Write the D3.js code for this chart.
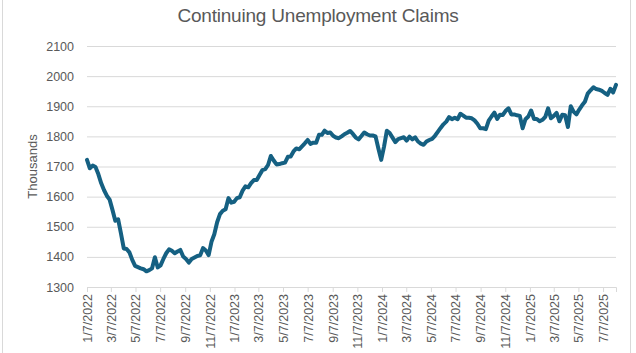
<!DOCTYPE html>
<html>
<head>
<meta charset="utf-8">
<script src="https://cdn.jsdelivr.net/npm/d3@7"></script>
<style>
  body { margin: 0; background: #fff; }
  text { font-family: "Liberation Sans", Arial, sans-serif; fill: #595959; }
</style>
</head>
<body>
<div id="chart"></div>
<script>
// weekly continuing claims (thousands), first week ending 1/7/2022
var startDate = "2022-01-07";
var claims = [
    1722, 1694, 1703, 1698, 1675, 1645, 1622, 1603, 1590, 1556,
    1520, 1525, 1478, 1428, 1426, 1415, 1390, 1370, 1366, 1362,
    1359, 1352, 1356, 1362, 1399, 1365, 1372, 1393, 1412, 1425,
    1420, 1412, 1418, 1423, 1401, 1393, 1381, 1393, 1398, 1403,
    1405, 1429, 1421, 1406, 1450, 1475, 1515, 1542, 1553, 1558,
    1595, 1580, 1583, 1595, 1598, 1620, 1634, 1631, 1645, 1655,
    1655, 1672, 1688, 1691, 1705, 1735, 1720, 1707, 1708, 1711,
    1713, 1732, 1733, 1750, 1760, 1757, 1767, 1777, 1788, 1775,
    1779, 1779, 1805, 1805, 1819, 1811, 1813, 1802, 1796, 1794,
    1800, 1807, 1812, 1818, 1808, 1796, 1790, 1801, 1813, 1807,
    1803, 1803, 1800, 1760, 1722, 1766, 1819, 1811, 1796, 1781,
    1791, 1794, 1797, 1786, 1799, 1790, 1797, 1783, 1776, 1772,
    1783, 1788, 1792, 1802, 1815, 1828, 1840, 1849, 1864, 1857,
    1862, 1857, 1875, 1869, 1862, 1862, 1860, 1853, 1842, 1827,
    1827, 1824, 1852, 1866, 1879, 1858, 1872, 1871, 1885, 1893,
    1873, 1873, 1870, 1868, 1827, 1857, 1866, 1886, 1858, 1858,
    1850, 1855, 1865, 1893, 1860, 1868, 1878, 1850, 1872, 1870,
    1831, 1900, 1882, 1873, 1889, 1903, 1915, 1942, 1953, 1963,
    1957, 1955, 1951, 1944, 1938, 1958, 1946, 1971
];
var xTickLabels = [
    "1/7/2022", "3/7/2022", "5/7/2022", "7/7/2022", "9/7/2022", "11/7/2022",
    "1/7/2023", "3/7/2023", "5/7/2023", "7/7/2023", "9/7/2023", "11/7/2023",
    "1/7/2024", "3/7/2024", "5/7/2024", "7/7/2024", "9/7/2024", "11/7/2024",
    "1/7/2025", "3/7/2025", "5/7/2025", "7/7/2025"
];
var yTicks = [1300, 1400, 1500, 1600, 1700, 1800, 1900, 2000, 2100];

function init() {
    var w = 636;
    var h = 353;
    var margin = { top: 46, right: 20, bottom: 66, left: 87 };
    var width = 616 - margin.left;
    var height = 287 - margin.top;

    var parseIso = d3.timeParse("%Y-%m-%d");
    var parseMdy = d3.timeParse("%m/%d/%Y");
    var start = parseIso(startDate);
    var dataset = claims.map(function(v, i) {
        return { date: d3.timeWeek.offset(start, i), number: v };
    });
    var tickDates = xTickLabels.map(function(s) { return parseMdy(s); });

    var svg0 = d3.select("#chart")
        .append("svg")
        .attr("width", w)
        .attr("height", h);

    // chart area border
    svg0.append("rect")
        .attr("x", 2.5)
        .attr("y", -2)
        .attr("width", 628)
        .attr("height", h + 4)
        .attr("fill", "none")
        .attr("stroke", "#d9d9d9");

    svg0.append("text")
        .attr("x", 318)
        .attr("y", 22)
        .attr("text-anchor", "middle")
        .style("font-size", "19px")
        .style("letter-spacing", "-0.2px")
        .text("Continuing Unemployment Claims");

    var svg = svg0.append("g")
        .attr("transform", "translate(" + margin.left + "," + margin.top + ")");

    var xScale = d3.scaleTime()
        .domain(d3.extent(dataset, function(d) { return d.date; }))
        .range([0, width]);

    var yScale = d3.scaleLinear()
        .domain([1300, 2100])
        .range([height, 0]);

    var yAxis = d3.axisLeft(yScale)
        .tickValues(yTicks)
        .tickSize(-width)
        .tickPadding(13)
        .tickFormat(d3.format("d"));
    var gy = svg.append("g")
        .attr("class", "y axis")
        .call(yAxis);
    gy.select(".domain").remove();
    gy.selectAll("line").attr("stroke", "#d9d9d9");
    gy.selectAll("text")
        .style("font-size", "12.5px")
        .attr("fill", "#595959");

    var xAxis = d3.axisBottom(xScale)
        .tickValues(tickDates)
        .tickSize(5)
        .tickFormat(d3.timeFormat("%-m/%-d/%Y"));
    var gx = svg.append("g")
        .attr("class", "x axis")
        .attr("transform", "translate(0," + height + ")")
        .call(xAxis);
    gx.select(".domain").attr("stroke", "#d9d9d9");
    gx.selectAll("line").attr("stroke", "#d9d9d9");
    gx.selectAll("text")
        .style("font-size", "12.5px")
        .attr("fill", "#595959")
        .attr("transform", "rotate(-90)")
        .attr("text-anchor", "end")
        .attr("x", -7)
        .attr("y", 0)
        .attr("dy", "0.35em");

    svg.append("text")
        .attr("transform", "rotate(-90)")
        .attr("x", -height / 2)
        .attr("y", -50)
        .attr("text-anchor", "middle")
        .style("font-size", "13px")
        .text("Thousands");

    var line = d3.line()
        .x(function(d) { return xScale(d.date); })
        .y(function(d) { return yScale(d.number); });

    svg.append("path")
        .datum(dataset)
        .attr("fill", "none")
        .attr("stroke", "#156082")
        .attr("stroke-width", 4)
        .attr("stroke-linejoin", "round")
        .attr("stroke-linecap", "round")
        .attr("d", line);
}

window.onload = init;
</script>
</body>
</html>
